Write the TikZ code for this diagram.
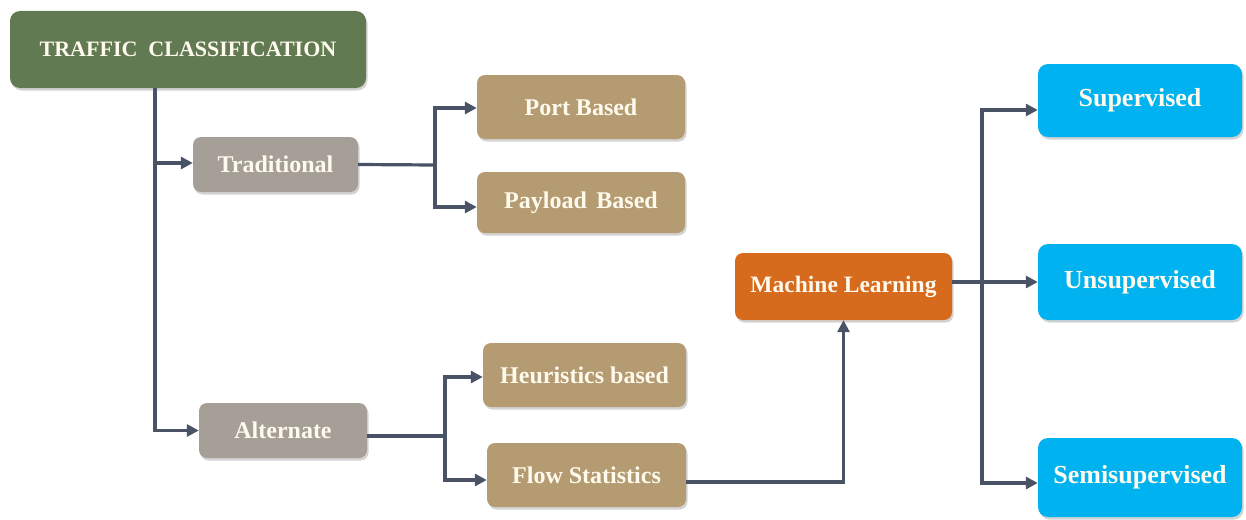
\documentclass[tikz,border=0pt]{standalone}
\usepackage{fontspec}
\setmainfont{Liberation Serif}
\usetikzlibrary{arrows.meta,shadows}
\definecolor{tcgreen}{HTML}{617A52}
\definecolor{grey1}{HTML}{A69F98}
\definecolor{tan1}{HTML}{B59B72}
\definecolor{orange1}{HTML}{D66A1D}
\definecolor{blue1}{HTML}{00B2F0}
\definecolor{linec}{HTML}{4A5265}
\definecolor{textc}{HTML}{FFFAEE}
\tikzset{
  box/.style={draw=none, rounded corners=8pt, inner sep=0pt, text=textc,
    font=\bfseries\fontsize{24}{28}\selectfont,
    drop shadow={shadow xshift=1.5pt, shadow yshift=-2.5pt, opacity=0.35}},
  greenbox/.style={box, fill=tcgreen, rounded corners=10pt, font=\bfseries\fontsize{22}{26}\selectfont},
  greybox/.style={box, fill=grey1},
  tanbox/.style={box, fill=tan1},
  orangebox/.style={box, fill=orange1, font=\bfseries\fontsize{23.5}{26}\selectfont},
  bluebox/.style={box, fill=blue1, rounded corners=10pt, font=\bfseries\fontsize{26}{30}\selectfont},
  conn/.style={draw=linec, line width=3.2pt},
  arr/.style={conn, -{Triangle[length=12pt,width=12pt]}}
}
\begin{document}
\begin{tikzpicture}[x=1pt,y=-1pt]
\useasboundingbox (0,0) rectangle (1246,519);
% nodes
\node[greenbox, minimum width=356pt, minimum height=77pt] (tc) at (188,49.5) {TRAFFIC\ \ CLASSIFICATION};
\node[greybox, minimum width=165pt, minimum height=55pt] (trad) at (275.5,164.5) {Traditional};
\node[tanbox, minimum width=208pt, minimum height=64pt] (port) at (581,107) {Port Based};
\node[tanbox, minimum width=208pt, minimum height=61pt] (pay) at (581,202.5) {Payload\hspace{0.4em}Based};
\node[greybox, minimum width=168pt, minimum height=55pt] (alt) at (283,430.5) {Alternate};
\node[tanbox, minimum width=203pt, minimum height=64pt] (heur) at (584.5,375) {Heuristics based};
\node[tanbox, minimum width=199pt, minimum height=64pt] (flow) at (586.5,475) {Flow Statistics};
\node[orangebox, minimum width=217pt, minimum height=67pt] (ml) at (843.5,286.5) {Machine Learning};
\node[bluebox, minimum width=204pt, minimum height=73pt] (sup) at (1140,100.5) {Supervised};
\node[bluebox, minimum width=204pt, minimum height=76pt] (uns) at (1140,282) {Unsupervised};
\node[bluebox, minimum width=204pt, minimum height=79pt] (semi) at (1140,477.5) {Semisupervised};
% branch points
\coordinate (b1) at (435,165);
\coordinate (b2) at (445,436);
\coordinate (b3) at (982,283);
% connectors
\draw[arr] ([xshift=-33pt]tc.south) |- ([yshift=1.5pt]trad.west);
\draw[arr] ([xshift=-33pt]tc.south) |- (alt.west);
\draw[conn] (trad.east) -- (b1);
\draw[arr] (b1) |- ([yshift=-1pt]port.west);
\draw[arr] (b1) |- ([yshift=-4.5pt]pay.west);
\draw[conn] ([yshift=-5.5pt]alt.east) -- (b2);
\draw[arr] (b2) |- ([yshift=-2pt]heur.west);
\draw[arr] (b2) |- ([yshift=-5pt]flow.west);
\draw[arr] ([yshift=-7pt]flow.east) -| (ml.south);
\draw[arr] (ml.east |- uns.west) -- (uns.west);
\draw[arr] (b3) |- ([yshift=-9.5pt]sup.west);
\draw[arr] (b3) |- ([yshift=-5.5pt]semi.west);
\end{tikzpicture}
\end{document}
